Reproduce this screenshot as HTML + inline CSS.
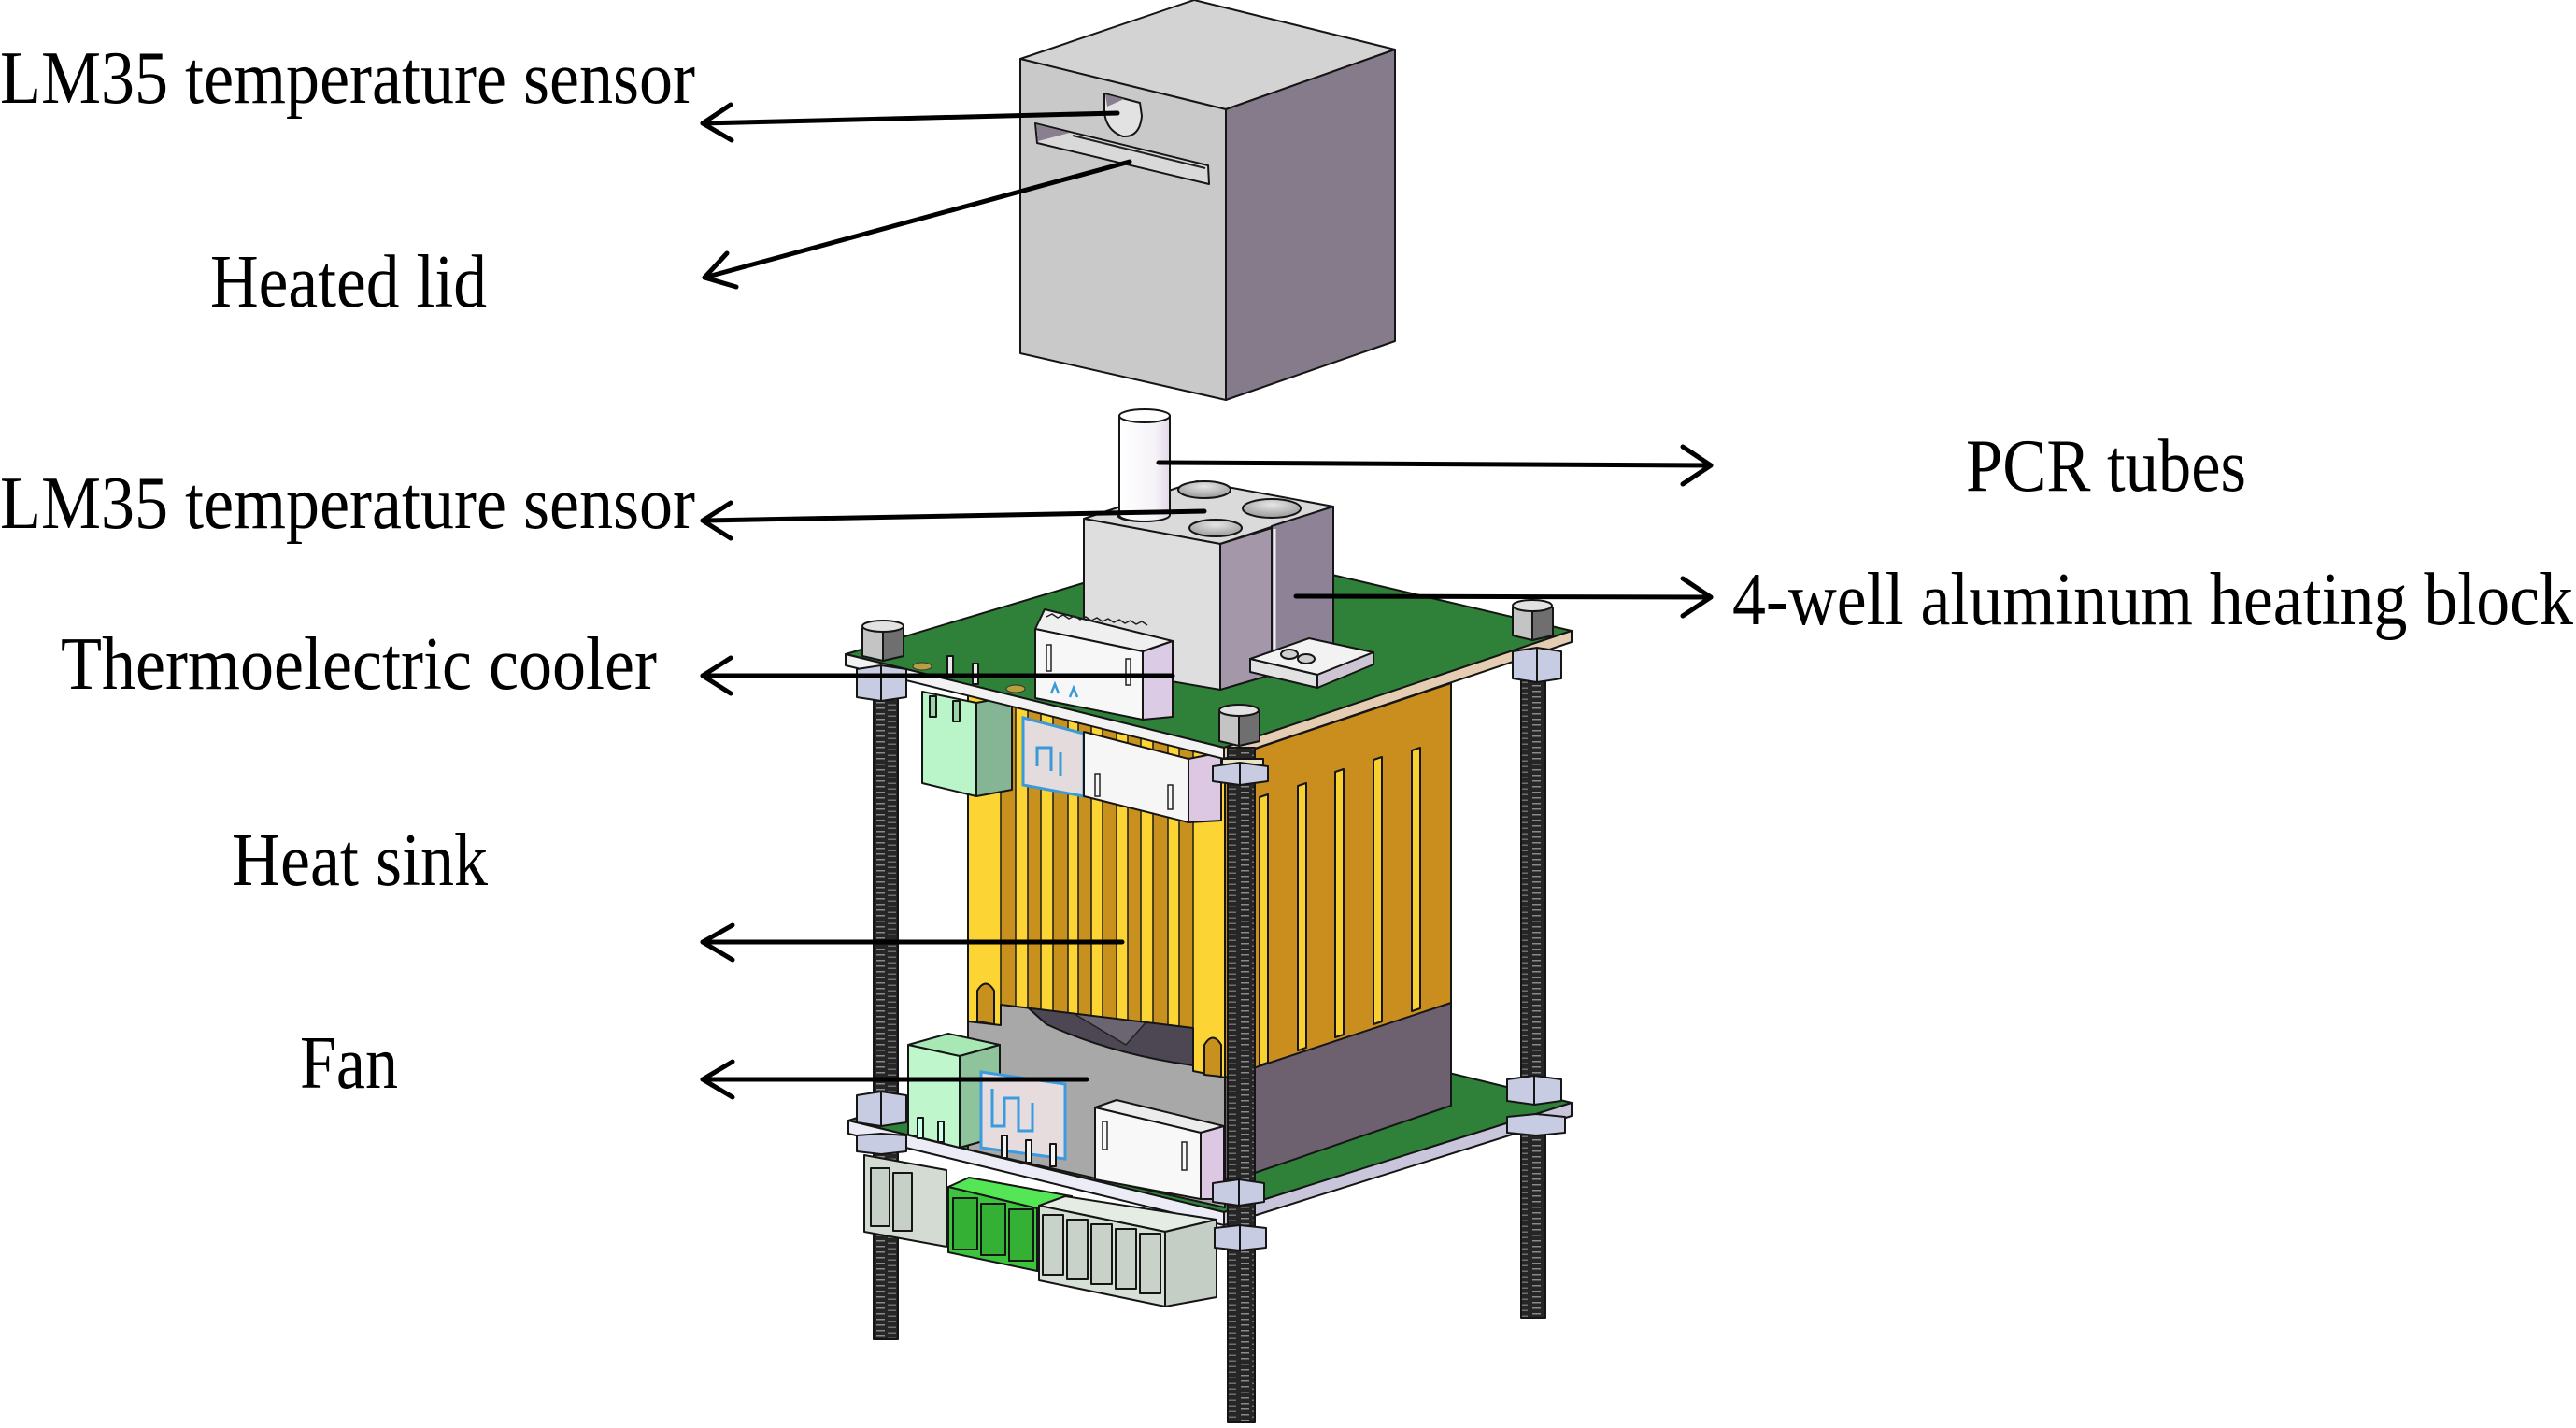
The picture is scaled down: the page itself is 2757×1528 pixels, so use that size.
<!DOCTYPE html>
<html>
<head>
<meta charset="utf-8">
<style>
  html,body{margin:0;padding:0;background:#ffffff;}
  svg{display:block;}
  .lbl{font-family:"Liberation Serif","Times New Roman",serif;font-size:81px;fill:#000;}
  .ol{stroke:#151515;stroke-width:2;stroke-linejoin:round;}
  .arr{stroke:#000;stroke-width:5;fill:none;stroke-linecap:round;stroke-linejoin:round;}
</style>
</head>
<body>
<svg width="2757" height="1528" viewBox="0 0 2757 1528" xmlns="http://www.w3.org/2000/svg">
<defs>
  <pattern id="thr" width="26" height="6" patternUnits="userSpaceOnUse">
    <rect width="26" height="6" fill="#262626"/>
    <rect x="2" y="1" width="9" height="1.5" fill="#8a8a8a"/>
    <rect x="14" y="3.5" width="9" height="1.5" fill="#707070"/>
  </pattern>
  <clipPath id="hsf">
    <path d="M1036,744 L1311,812 L1311,1153 L1277,1146 L1277,1100 L1071,1075 L1071,1097 L1036,1093 Z"/>
  </clipPath>
  <linearGradient id="tube" x1="0" x2="1" y1="0" y2="0">
    <stop offset="0" stop-color="#ffffff"/>
    <stop offset="0.7" stop-color="#f6f3f8"/>
    <stop offset="1" stop-color="#e2d8e8"/>
  </linearGradient>
  <radialGradient id="hole" cx="0.5" cy="0.3" r="0.7">
    <stop offset="0" stop-color="#e6e6e6"/>
    <stop offset="1" stop-color="#9a9a9a"/>
  </radialGradient>
</defs>

<!-- ===== Threaded rods (left & right) ===== -->
<rect x="935" y="700" width="26" height="733" fill="url(#thr)" class="ol" stroke-width="1"/>
<rect x="1628" y="680" width="26" height="730" fill="url(#thr)" class="ol" stroke-width="1"/>

<!-- ===== Bottom PCB ===== -->
<polygon points="908,1199 1280,1082 1682,1180 1310,1297" fill="#2f8038" class="ol"/>
<polygon points="908,1199 1310,1297 1310,1311 908,1213" fill="#ececf6" class="ol"/>
<polygon points="1310,1297 1682,1180 1682,1194 1310,1311" fill="#c9c6dc" class="ol"/>

<!-- ===== Fan ===== -->
<polygon points="1036,1060 1311,1110 1311,1292 1036,1230" fill="#a8a8a8" class="ol"/>
<path d="M1100,1078 Q1180,1066 1277,1096 L1277,1140 Q1190,1128 1120,1096 Z" fill="#4c4753" class="ol"/>
<path d="M1150,1085 L1230,1090 L1205,1118 Z" fill="#6a6570" stroke="#222" stroke-width="1.5"/>
<polygon points="1311,1150 1553,1073 1553,1183 1343,1255 1311,1262" fill="#6d606f" class="ol"/>

<!-- ===== Heat sink ===== -->
<polygon points="1311,812 1553,731 1553,1073 1311,1153" fill="#c98e1e" class="ol"/>
<polygon points="1348,853 1357,850 1357,1137 1348,1140" fill="#f8d030" class="ol" stroke-width="1.5"/>
<polygon points="1389,841 1398,838 1398,1121 1389,1124" fill="#f8d030" class="ol" stroke-width="1.5"/>
<polygon points="1429,826 1438,823 1438,1107 1429,1110" fill="#f8d030" class="ol" stroke-width="1.5"/>
<polygon points="1470,813 1479,810 1479,1093 1470,1096" fill="#f8d030" class="ol" stroke-width="1.5"/>
<polygon points="1511,803 1520,800 1520,1079 1511,1082" fill="#f8d030" class="ol" stroke-width="1.5"/>

<path d="M1036,744 L1311,812 L1311,1153 L1277,1146 L1277,1100 L1071,1075 L1071,1097 L1036,1093 Z" fill="#fcd434"/>
<g clip-path="url(#hsf)" stroke="#1a1a1a" stroke-width="1.5" fill="#c8901c">
  <rect x="1071" y="740" width="16" height="420"/>
  <rect x="1100" y="740" width="14" height="420"/>
  <rect x="1127" y="740" width="16" height="420"/>
  <rect x="1154" y="740" width="14" height="420"/>
  <rect x="1180" y="740" width="15" height="420"/>
  <rect x="1207" y="740" width="14" height="420"/>
  <rect x="1234" y="740" width="16" height="420"/>
  <rect x="1262" y="740" width="15" height="420"/>
</g>
<path d="M1036,744 L1311,812 L1311,1153 L1277,1146 L1277,1100 L1071,1075 L1071,1097 L1036,1093 Z" fill="none" class="ol"/>
<path d="M1046,1093 L1046,1060 Q1055,1045 1064,1060 L1064,1096 Z" fill="#c8901c" class="ol"/>
<path d="M1289,1150 L1289,1118 Q1298,1103 1307,1118 L1307,1152 Z" fill="#c8901c" class="ol"/>

<!-- ===== Components on bottom PCB ===== -->
<polygon points="972,1118 1015,1106 1070,1118 1027,1130" fill="#a8e8b4" class="ol"/>
<polygon points="972,1118 1027,1130 1027,1228 972,1214" fill="#c0f6cc" class="ol"/>
<polygon points="1027,1130 1070,1118 1070,1216 1027,1228" fill="#8fc39c" class="ol"/>
<rect x="982" y="1196" width="6" height="22" fill="#cfe" class="ol" stroke-width="1.5"/>
<rect x="1004" y="1200" width="6" height="22" fill="#cfe" class="ol" stroke-width="1.5"/>

<polygon points="1050,1147 1140,1160 1140,1240 1050,1228" fill="#e6dcde" stroke="#3b9be0" stroke-width="3"/>
<path d="M1062,1165 L1062,1205 L1075,1205 L1075,1175 L1090,1175 L1090,1210 L1105,1210 L1105,1180" fill="none" stroke="#3b9be0" stroke-width="3"/>
<rect x="1072" y="1215" width="6" height="24" fill="#f4f4f4" class="ol" stroke-width="1.5"/>
<rect x="1098" y="1220" width="6" height="24" fill="#f4f4f4" class="ol" stroke-width="1.5"/>
<rect x="1124" y="1224" width="6" height="24" fill="#f4f4f4" class="ol" stroke-width="1.5"/>

<polygon points="1172,1185 1195,1177 1310,1205 1285,1212" fill="#ececec" class="ol"/>
<polygon points="1172,1185 1285,1212 1285,1283 1172,1262" fill="#f8f8f8" class="ol"/>
<polygon points="1285,1212 1310,1205 1310,1283 1285,1283" fill="#dcc8e2" class="ol"/>
<rect x="1180" y="1200" width="5" height="30" fill="none" stroke="#222" stroke-width="1.5"/>
<rect x="1265" y="1222" width="5" height="30" fill="none" stroke="#222" stroke-width="1.5"/>

<!-- ===== Connectors under bottom PCB ===== -->
<polygon points="925,1236 1013,1252 1013,1334 925,1318" fill="#d3dbd3" class="ol"/>
<rect x="932" y="1250" width="20" height="62" fill="#c6d0c6" class="ol" stroke-width="1.5"/>
<rect x="956" y="1255" width="20" height="62" fill="#c6d0c6" class="ol" stroke-width="1.5"/>

<polygon points="1015,1270 1037,1260 1147,1280 1110,1293" fill="#55e655" class="ol"/>
<polygon points="1015,1270 1110,1293 1110,1360 1015,1340" fill="#3cc43c" class="ol"/>
<polygon points="1110,1293 1147,1280 1147,1350 1110,1360" fill="#2fa52f" class="ol"/>
<rect x="1020" y="1282" width="26" height="55" fill="#34b034" class="ol" stroke-width="1.5"/>
<rect x="1050" y="1288" width="26" height="55" fill="#34b034" class="ol" stroke-width="1.5"/>
<rect x="1080" y="1294" width="26" height="55" fill="#34b034" class="ol" stroke-width="1.5"/>

<polygon points="1112,1290 1140,1280 1302,1305 1247,1318" fill="#e4ece4" class="ol"/>
<polygon points="1112,1290 1247,1318 1247,1398 1112,1370" fill="#d6e0d6" class="ol"/>
<polygon points="1247,1318 1302,1305 1302,1388 1247,1398" fill="#c4cec4" class="ol"/>
<rect x="1116" y="1300" width="22" height="64" fill="#c8d2c8" class="ol" stroke-width="1.5"/>
<rect x="1142" y="1305" width="22" height="64" fill="#c8d2c8" class="ol" stroke-width="1.5"/>
<rect x="1168" y="1310" width="22" height="64" fill="#c8d2c8" class="ol" stroke-width="1.5"/>
<rect x="1194" y="1315" width="22" height="64" fill="#c8d2c8" class="ol" stroke-width="1.5"/>
<rect x="1220" y="1320" width="22" height="64" fill="#c8d2c8" class="ol" stroke-width="1.5"/>

<!-- ===== Components hanging under top PCB ===== -->
<polygon points="987,740 1045,752 1045,852 987,838" fill="#b9f5c9" class="ol"/>
<polygon points="1045,752 1083,745 1083,845 1045,852" fill="#86b596" class="ol"/>
<rect x="995" y="745" width="7" height="22" fill="#9cd4aa" class="ol" stroke-width="1.5"/>
<rect x="1020" y="750" width="7" height="22" fill="#9cd4aa" class="ol" stroke-width="1.5"/>

<polygon points="1095,768 1160,785 1160,852 1095,840" fill="#e4dbdc" stroke="#3a9ad9" stroke-width="3"/>
<path d="M1110,820 L1110,800 L1125,800 L1125,825 M1135,805 L1135,830" fill="none" stroke="#3a9ad9" stroke-width="3"/>

<polygon points="1160,783 1272,812 1272,880 1160,852" fill="#f6f6f6" class="ol"/>
<polygon points="1272,812 1307,805 1307,878 1272,880" fill="#dcc8e2" class="ol"/>
<rect x="1172" y="828" width="5" height="24" fill="none" stroke="#222" stroke-width="1.5"/>
<rect x="1250" y="840" width="5" height="26" fill="none" stroke="#222" stroke-width="1.5"/>

<!-- ===== Top PCB ===== -->
<polygon points="905,700 1293,584 1682,675 1310,800" fill="#2f8038" class="ol"/>
<polygon points="905,700 1310,800 1310,812 905,712" fill="#f2f2f2" class="ol"/>
<polygon points="1310,800 1682,675 1682,687 1310,812" fill="#e4cdb2" class="ol"/>
<ellipse cx="987" cy="713" rx="10" ry="4" fill="#b8a040" stroke="#333" stroke-width="1"/>
<ellipse cx="1087" cy="737" rx="10" ry="4" fill="#b8a040" stroke="#333" stroke-width="1"/>
<rect x="1014" y="702" width="6" height="22" fill="#eaeaea" class="ol" stroke-width="1.5"/>
<rect x="1041" y="710" width="6" height="22" fill="#eaeaea" class="ol" stroke-width="1.5"/>

<!-- Heating block -->
<polygon points="1160,555 1281,515 1427,542 1306,582" fill="#dadada" class="ol"/>
<polygon points="1160,555 1306,582 1306,738 1160,713" fill="#dedede" class="ol"/>
<polygon points="1306,582 1361,565 1361,722 1306,738" fill="#a497aa" class="ol"/>
<polygon points="1361,563 1427,542 1427,690 1361,708" fill="#8e8296" class="ol"/>
<line x1="1364" y1="566" x2="1364" y2="718" stroke="#f0f0f0" stroke-width="3"/>
<ellipse cx="1223" cy="551" rx="27" ry="7" fill="url(#hole)" class="ol"/>
<ellipse cx="1289" cy="524" rx="28" ry="9" fill="url(#hole)" class="ol"/>
<ellipse cx="1361" cy="544" rx="31" ry="10" fill="url(#hole)" class="ol"/>
<ellipse cx="1301" cy="565" rx="28" ry="9" fill="url(#hole)" class="ol"/>
<!-- tab plate -->
<polygon points="1338,705 1401,683 1470,698 1410,722" fill="#f2f2f2" class="ol"/>
<polygon points="1338,705 1410,722 1410,736 1338,719" fill="#e2e2e2" class="ol"/>
<polygon points="1410,722 1470,698 1470,711 1410,736" fill="#cdc6d2" class="ol"/>
<ellipse cx="1380" cy="700" rx="9" ry="5" fill="#cfcfcf" class="ol" stroke-width="1.5"/>
<ellipse cx="1398" cy="705" rx="9" ry="5" fill="#cfcfcf" class="ol" stroke-width="1.5"/>

<!-- PCR tube -->
<path d="M1198,445 L1198,551 A27,7 0 0 0 1252,551 L1252,445 Z" fill="url(#tube)" class="ol"/>
<ellipse cx="1225" cy="445" rx="27" ry="7" fill="#ffffff" class="ol"/>

<!-- Top white connector -->
<polygon points="1108,673 1118,652 1255,686 1223,697" fill="#efefef" class="ol"/>
<polygon points="1108,673 1223,697 1223,770 1108,747" fill="#f7f7f7" class="ol"/>
<polygon points="1223,697 1255,686 1255,767 1223,770" fill="#dccbe4" class="ol"/>
<path d="M1120,660 l6,-3 l6,4 l6,-3 l6,4 l6,-3 l6,4 l6,-3 l6,4 l6,-3 l6,4 l6,-3 l6,4 l6,-3 l6,4 l6,-3 l6,4 l6,-3 l6,4" fill="none" stroke="#222" stroke-width="1.5"/>
<rect x="1120" y="690" width="5" height="28" fill="none" stroke="#222" stroke-width="1.5"/>
<rect x="1205" y="705" width="5" height="28" fill="none" stroke="#222" stroke-width="1.5"/>
<path d="M1125,742 l4,-10 l4,10 M1145,746 l4,-10 l4,10" stroke="#3a9ad9" stroke-width="2.5" fill="none"/>

<!-- ===== Front rod ===== -->
<rect x="1314" y="800" width="29" height="722" fill="url(#thr)" class="ol" stroke-width="1"/>

<!-- ===== Standoffs on top PCB ===== -->
<g class="ol">
  <polygon points="923,672 945,665 967,672 967,702 945,707 923,702" fill="#c4c4c4"/>
  <polygon points="945,672 967,672 967,702 945,707" fill="#6f6f6f"/>
  <ellipse cx="945" cy="670" rx="22" ry="6" fill="#e2e2e2"/>

  <polygon points="1619,650 1640,643 1662,650 1662,680 1640,685 1619,680" fill="#c4c4c4"/>
  <polygon points="1640,650 1662,650 1662,680 1640,685" fill="#6f6f6f"/>
  <ellipse cx="1640" cy="648" rx="21" ry="6" fill="#e2e2e2"/>

  <polygon points="1305,762 1326,755 1348,762 1348,793 1326,798 1305,793" fill="#c4c4c4"/>
  <polygon points="1326,762 1348,762 1348,793 1326,798" fill="#6f6f6f"/>
  <ellipse cx="1326" cy="760" rx="21" ry="6" fill="#e2e2e2"/>
</g>

<!-- Nuts under top PCB -->
<g class="ol">
  <polygon points="917,716 943,712 970,716 970,746 943,750 917,746" fill="#c8cce2"/>
  <line x1="943" y1="712" x2="943" y2="750"/>
  <polygon points="1619,697 1645,693 1671,697 1671,726 1645,730 1619,726" fill="#c8cce2"/>
  <line x1="1645" y1="693" x2="1645" y2="730"/>
  <rect x="1308" y="812" width="44" height="8" fill="#ece4c8"/>
  <polygon points="1298,820 1327,816 1357,820 1357,836 1327,840 1298,836" fill="#c8cce2"/>
  <line x1="1327" y1="816" x2="1327" y2="840"/>
</g>

<!-- Nuts on bottom PCB -->
<g class="ol">
  <polygon points="917,1172 943,1168 970,1172 970,1201 943,1205 917,1201" fill="#c8cce2"/>
  <line x1="943" y1="1168" x2="943" y2="1205"/>
  <polygon points="1613,1155 1642,1151 1671,1155 1671,1178 1642,1182 1613,1178" fill="#c8cce2"/>
  <line x1="1642" y1="1151" x2="1642" y2="1182"/>
  <polygon points="1298,1266 1326,1262 1353,1266 1353,1286 1326,1290 1298,1286" fill="#c8cce2"/>
  <line x1="1326" y1="1262" x2="1326" y2="1290"/>
  <polygon points="917,1215 943,1213 970,1215 970,1232 943,1235 917,1232" fill="#c8cce2"/>
  <polygon points="1613,1195 1644,1192 1675,1195 1675,1212 1644,1215 1613,1212" fill="#c8cce2"/>
  <polygon points="1300,1314 1327,1311 1355,1314 1355,1335 1327,1338 1300,1335" fill="#c8cce2"/>
  <line x1="1327" y1="1311" x2="1327" y2="1338"/>
</g>

<!-- ===== Heated lid ===== -->
<polygon points="1092,63 1278,0 1493,53 1312,117" fill="#d3d3d3" class="ol" stroke-width="2.5"/>
<polygon points="1092,63 1312,117 1312,428 1092,378" fill="#c9c9c9" class="ol" stroke-width="2.5"/>
<polygon points="1312,117 1493,53 1493,365 1312,428" fill="#867b8b" class="ol" stroke-width="2.5"/>
<path d="M1182,100 L1220,110 L1222,124 Q1220,147 1202,146 Q1184,140 1182,120 Z" fill="#e2e2e2" class="ol"/>
<polygon points="1183,101 1203,106 1185,114" fill="#8a7f90"/>
<polygon points="1108,132 1293,177 1294,197 1110,153" fill="#d9d9d9" class="ol"/>
<polygon points="1109,133 1145,142 1111,151" fill="#8a7f90"/>
<line x1="1148" y1="145" x2="1290" y2="180" stroke="#222" stroke-width="2"/>

<!-- ===== Arrows ===== -->
<line class="arr" x1="1196" y1="121" x2="752" y2="132"/>
<polyline class="arr" points="782,112 752,132 783,150"/>

<line class="arr" x1="1209" y1="173" x2="754" y2="297"/>
<polyline class="arr" points="778,271 754,297 788,307"/>

<line class="arr" x1="1289" y1="547" x2="752" y2="557"/>
<polyline class="arr" points="782,538 752,557 782,576"/>

<line class="arr" x1="1240" y1="495" x2="1831" y2="498"/>
<polyline class="arr" points="1801,478 1831,498 1801,518"/>

<line class="arr" x1="1387" y1="638" x2="1831" y2="639"/>
<polyline class="arr" points="1801,619 1831,639 1801,659"/>

<line class="arr" x1="1255" y1="723" x2="752" y2="723"/>
<polyline class="arr" points="782,704 752,723 782,742"/>

<line class="arr" x1="1201" y1="1008" x2="752" y2="1008"/>
<polyline class="arr" points="784,990 752,1008 784,1027"/>

<line class="arr" x1="1163" y1="1155" x2="752" y2="1155"/>
<polyline class="arr" points="784,1136 752,1155 784,1174"/>

<!-- ===== Labels ===== -->
<text class="lbl" x="0" y="110" textLength="744" lengthAdjust="spacingAndGlyphs">LM35 temperature sensor</text>
<text class="lbl" x="225" y="328" textLength="296" lengthAdjust="spacingAndGlyphs">Heated lid</text>
<text class="lbl" x="0" y="565" textLength="744" lengthAdjust="spacingAndGlyphs">LM35 temperature sensor</text>
<text class="lbl" x="65" y="737" textLength="638" lengthAdjust="spacingAndGlyphs">Thermoelectric cooler</text>
<text class="lbl" x="248" y="947" textLength="274" lengthAdjust="spacingAndGlyphs">Heat sink</text>
<text class="lbl" x="321" y="1164" textLength="105" lengthAdjust="spacingAndGlyphs">Fan</text>
<text class="lbl" x="2104" y="525" textLength="300" lengthAdjust="spacingAndGlyphs">PCR tubes</text>
<text class="lbl" x="1854" y="668" textLength="900" lengthAdjust="spacingAndGlyphs">4-well aluminum heating block</text>
</svg>
</body>
</html>
